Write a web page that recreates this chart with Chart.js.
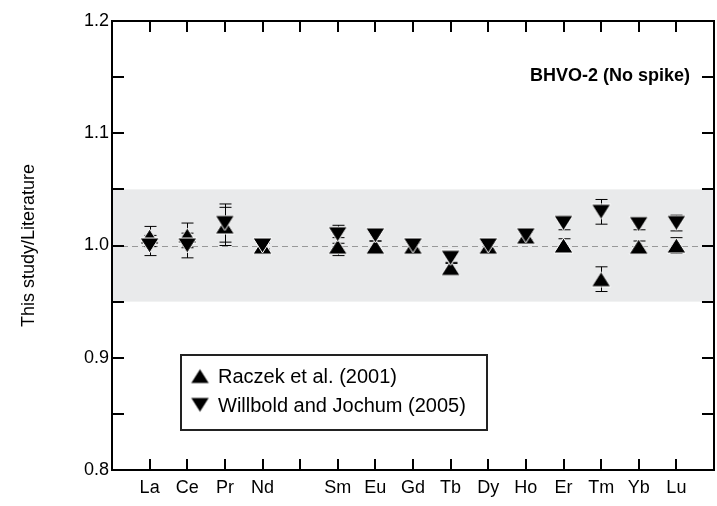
<!DOCTYPE html>
<html>
<head>
<meta charset="utf-8">
<script src="https://cdn.jsdelivr.net/npm/chart.js@4.4.0/dist/chart.umd.min.js"></script>
<style>
  html, body { margin: 0; padding: 0; background: #fff; overflow: hidden; }
  canvas { display: block; }
</style>
</head>
<body>
<canvas id="reeChart" width="717" height="506"></canvas>
<script>
// REE ratios, this study / literature (BHVO-2, no spike). Pm left empty.
const elements = ['La', 'Ce', 'Pr', 'Nd', '', 'Sm', 'Eu', 'Gd', 'Tb', 'Dy', 'Ho', 'Er', 'Tm', 'Yb', 'Lu'];
const raczek   = [1.008, 1.009, 1.017, 0.999, null, 0.999, 0.999, 0.999, 0.980, 0.999, 1.008, 1.000, 0.970, 0.999, 1.000];
const willbold = [1.000, 1.000, 1.020, 1.000, null, 1.010, 1.009, 1.000, 0.989, 1.000, 1.009, 1.020, 1.030, 1.019, 1.020];
const errors   = [0.009, 0.011, 0.017, 0.003, null, 0.008, 0.005, 0.003, 0.005, 0.003, 0.004, 0.006, 0.011, 0.005, 0.007];
const yTickLabels = [0.8, 0.9, 1.0, 1.1, 1.2];
const bandLow = 0.95, bandHigh = 1.05;

Chart.defaults.font.family = "'Liberation Sans', Arial, sans-serif";
Chart.defaults.color = '#000';

// filled triangle marker with thin white edge, centred on its box
function triangleMarker(up) {
  const w = 21, h = 17;
  const c = document.createElement('canvas');
  c.width = w; c.height = h;
  const g = c.getContext('2d');
  g.beginPath();
  if (up) { g.moveTo(w / 2, 1); g.lineTo(w - 1, h - 1); g.lineTo(1, h - 1); }
  else { g.moveTo(1, 1); g.lineTo(w - 1, 1); g.lineTo(w / 2, h - 1); }
  g.closePath();
  g.fillStyle = '#000';
  g.fill();
  g.strokeStyle = '#fff';
  g.lineWidth = 1;
  g.stroke();
  return c;
}
const upMarker = triangleMarker(true);
const downMarker = triangleMarker(false);

const toPoints = arr => arr.map((v, i) => ({ x: i, y: v })).filter(p => p.y !== null);

// grey +-5% band and dashed unity line, then error bars
const backdrop = {
  id: 'backdrop',
  beforeDatasetsDraw(chart) {
    const { ctx, chartArea: a, scales: { x, y } } = chart;
    ctx.save();
    ctx.fillStyle = '#e9eaeb';
    const yt = y.getPixelForValue(bandHigh), yb = y.getPixelForValue(bandLow);
    ctx.fillRect(a.left, yt, a.right - a.left, yb - yt);
    ctx.strokeStyle = '#999';
    ctx.lineWidth = 1.2;
    ctx.setLineDash([6, 4]);
    const y1 = Math.round(y.getPixelForValue(1.0)) + 0.5;
    ctx.beginPath();
    ctx.moveTo(a.left, y1);
    ctx.lineTo(a.right, y1);
    ctx.stroke();
    ctx.setLineDash([]);

    ctx.strokeStyle = '#000';
    ctx.lineWidth = 1;
    chart.data.datasets.forEach(ds => {
      ds.values.forEach((v, i) => {
        const e = errors[i];
        if (v === null || e === null) return;
        const px = Math.round(x.getPixelForValue(i)) + 0.5;
        const top = y.getPixelForValue(v + e), bot = y.getPixelForValue(v - e);
        ctx.beginPath();
        ctx.moveTo(px, top); ctx.lineTo(px, bot);
        ctx.moveTo(px - 6, top); ctx.lineTo(px + 6, top);
        ctx.moveTo(px - 6, bot); ctx.lineTo(px + 6, bot);
        ctx.stroke();
      });
    });
    ctx.restore();
  }
};

// frame with inward ticks on all four sides, title and boxed legend
const frame = {
  id: 'frame',
  afterDraw(chart) {
    const { ctx, chartArea: a, scales: { x, y } } = chart;
    ctx.save();
    ctx.strokeStyle = '#000';
    ctx.lineWidth = 2;
    ctx.strokeRect(a.left, a.top, a.right - a.left, a.bottom - a.top);
    const len = 11;
    ctx.beginPath();
    x.ticks.forEach(t => {
      if (t.value < 0 || t.value >= elements.length) return;
      const px = Math.round(x.getPixelForValue(t.value));
      ctx.moveTo(px, a.bottom); ctx.lineTo(px, a.bottom - len);
      ctx.moveTo(px, a.top); ctx.lineTo(px, a.top + len);
    });
    y.ticks.forEach(t => {
      const py = Math.round(y.getPixelForValue(t.value));
      ctx.moveTo(a.left, py); ctx.lineTo(a.left + len + 1, py);
      ctx.moveTo(a.right, py); ctx.lineTo(a.right - len - 1, py);
    });
    ctx.stroke();

    ctx.font = "bold 18px 'Liberation Sans', Arial, sans-serif";
    ctx.fillStyle = '#000';
    ctx.textAlign = 'right';
    ctx.textBaseline = 'middle';
    ctx.fillText('BHVO-2 (No spike)', a.right - 24, 76);

    // legend box
    const lx = 181, ly = 355, lw = 306, lh = 75;
    ctx.fillStyle = '#fff';
    ctx.fillRect(lx, ly, lw, lh);
    ctx.strokeStyle = '#222';
    ctx.lineWidth = 2;
    ctx.strokeRect(lx, ly, lw, lh);
    ctx.font = "20px 'Liberation Sans', Arial, sans-serif";
    ctx.textAlign = 'left';
    chart.data.datasets.forEach((ds, i) => {
      const cy = ly + 21 + i * 29;
      ctx.drawImage(ds.pointStyle, 200 - ds.pointStyle.width / 2, cy - ds.pointStyle.height / 2);
      ctx.fillStyle = '#000';
      ctx.fillText(ds.label, 218, cy + 1);
    });
    ctx.restore();
  }
};

const chart = new Chart(document.getElementById('reeChart'), {
  type: 'scatter',
  data: {
    datasets: [
      { label: 'Raczek et al. (2001)', values: raczek, data: toPoints(raczek),
        pointStyle: upMarker, pointRadius: 9, order: 2 },
      { label: 'Willbold and Jochum (2005)', values: willbold, data: toPoints(willbold),
        pointStyle: downMarker, pointRadius: 9, order: 1 }
    ]
  },
  options: {
    responsive: false,
    animation: false,
    layout: { autoPadding: false, padding: { top: 21, right: 3, left: 0, bottom: 0 } },
    plugins: { legend: { display: false }, tooltip: { enabled: false } },
    scales: {
      x: {
        type: 'linear', min: -1, max: 15,
        grid: { display: false, drawTicks: false },
        border: { display: false },
        ticks: {
          stepSize: 1, autoSkip: false, maxRotation: 0, padding: 7,
          font: { size: 18 },
          callback: v => elements[v] ?? ''
        },
        afterFit: s => { s.height = 36; s.paddingLeft = 0; s.paddingRight = 0; }
      },
      y: {
        min: 0.8, max: 1.2,
        grid: { display: false, drawTicks: false },
        border: { display: false },
        ticks: {
          stepSize: 0.05, padding: 3,
          font: { size: 18 },
          callback: v => yTickLabels.some(t => Math.abs(t - v) < 1e-6) ? v.toFixed(1) : ''
        },
        title: {
          display: true, text: 'This study/Literature',
          font: { size: 18 }, padding: { top: 18, bottom: 0 }
        },
        afterFit: s => { s.width = 112; s.paddingTop = 0; s.paddingBottom = 0; }
      }
    }
  },
  plugins: [backdrop, frame]
});
</script>
</body>
</html>
